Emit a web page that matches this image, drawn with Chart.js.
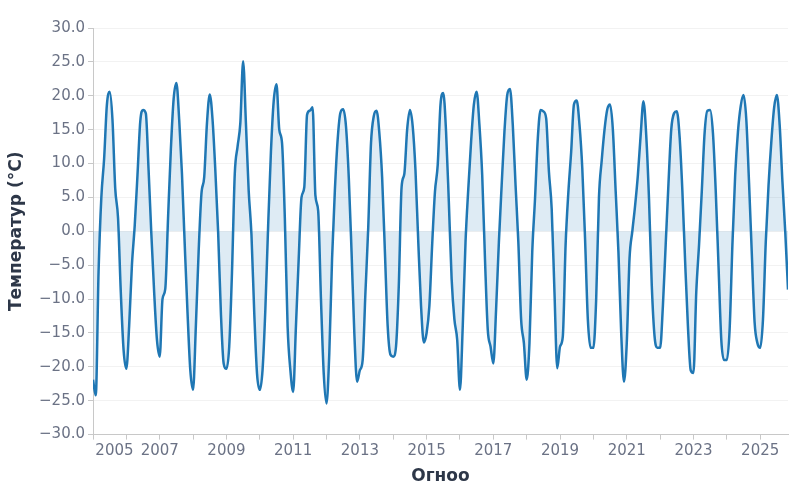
<!DOCTYPE html>
<html>
<head>
<meta charset="utf-8">
<script src="https://cdn.jsdelivr.net/npm/chart.js@4.4.1/dist/chart.umd.min.js"></script>
<style>
  html, body { margin: 0; padding: 0; background: #fff; }
  #wrap { width: 800px; height: 500px; }
</style>
</head>
<body>
<div id="wrap"><canvas id="tempChart"></canvas></div>
<script>
// monthly mean temperature, Jan 2005 .. Nov 2025
const firstYear = 2005;
const temps = [
  -21.9, -24.2, -6, 5, 10.7, 18.7, 20.6, 16.5, 6.3, 2, -9, -17.5,      // 2005
  -20.3, -14, -5, 0.8, 8.3, 16.2, 17.9, 17.4, 9, -0.5, -9, -16,       // 2006
  -18.5, -10, -8.5, 2, 12, 19.5, 21.9, 16.5, 8.5, -2, -12, -20.5,     // 2007
  -23.4, -14, -3, 5.5, 8, 16, 20.2, 16.5, 9, 0, -12, -19.5,           // 2008
  -20.3, -17, -6, 8.5, 12.5, 16, 25.1, 16, 6, -0.5, -12, -21,         // 2009
  -23.4, -20.4, -11.5, 0.8, 11.7, 19.2, 21.7, 15, 13, 2, -14, -20.5,  // 2010
  -23.7, -14, -4, 5, 6.5, 17.2, 17.8, 18.3, 5.3, 3, -10, -21,         // 2011
  -25.4, -18, -4, 6, 13.5, 17.5, 18, 15.5, 8, -3, -15, -22.2,         // 2012
  -20.5, -19, -9, 0.5, 13, 17, 17.8, 14.5, 8, -3, -14, -18.2,         // 2013
  -18.5, -17, -8, 6.5, 8.5, 15, 17.9, 15.5, 9, -1.5, -11, -16.4,      // 2014
  -15, -11, -2, 5.8, 9.8, 18.7, 20.4, 14.7, 4.3, -7, -13, -16,        // 2015
  -23.4, -14, -1.6, 6.3, 13.2, 18.7, 20.6, 15.7, 8.3, -4.1, -14.5, -17, // 2016
  -19.5, -11.5, -1.6, 6.8, 14.7, 20.1, 21, 15.7, 6.8, -1.6, -13, -16.5, // 2017
  -21.9, -16.5, -3.1, 4.8, 13.7, 17.9, 17.7, 16.7, 8.8, 3.3, -9, -20.2, // 2018
  -17, -15.5, -2, 5.8, 11.7, 18.7, 19.3, 15.7, 9.3, -1.1, -13, -17.2, // 2019
  -17.2, -10, 5, 10.5, 15, 18, 18.7, 15, 6, -3, -15, -22.2,           // 2020
  -16.5, -4, 0, 3.8, 8.3, 14.2, 19.2, 14.2, 4.8, -8, -15.5, -17.2,    // 2021
  -17.2, -11, -2, 7, 15, 17.4, 17.7, 14, 6, -4.5, -14, -20.5,         // 2022
  -20.9, -9, -2, 6, 14.5, 17.8, 17.9, 14.5, 6, -5, -16, -19,          // 2023
  -19, -14.5, -2, 8.3, 14.7, 18.5, 20.1, 16.5, 7, -3.5, -13.5, -16.5, // 2024
  -17.2, -13, -1.6, 6.8, 13.2, 18.2, 20.1, 15.7, 7.3, 0, -8.6         // 2025
];
const labelYears = [2005, 2007, 2009, 2011, 2013, 2015, 2017, 2019, 2021, 2023, 2025];
const yTicks = [-30, -25, -20, -15, -10, -5, 0, 5, 10, 15, 20, 25, 30];

const points = temps.map((t, i) => ({ x: firstYear + i / 12, y: t }));
const lastX = firstYear + (temps.length - 1) / 12;

const tickColor = "#6b7285";
const titleColor = "#2d3748";

new Chart(document.getElementById("tempChart").getContext("2d"), {
  type: "line",
  data: {
    datasets: [{
      data: points,
      borderColor: "#1f77b4",
      backgroundColor: "rgba(31, 119, 180, 0.15)",
      borderWidth: 2.5,
      pointRadius: 0,
      fill: "origin",
      cubicInterpolationMode: "monotone"
    }]
  },
  options: {
    responsive: true,
    maintainAspectRatio: false,
    animation: false,
    layout: { padding: { left: 6, right: 12, top: 28, bottom: 13 } },
    plugins: { legend: { display: false }, tooltip: { enabled: false } },
    scales: {
      x: {
        type: "linear",
        min: firstYear,
        max: lastX,
        border: { color: "#c8c8c8" },
        grid: { drawOnChartArea: false, drawTicks: true, tickLength: 5, tickColor: "#c8c8c8" },
        ticks: {
          stepSize: 1,
          includeBounds: false,
          autoSkip: false,
          maxRotation: 0,
          padding: 3,
          color: tickColor,
          font: { family: "DejaVu Sans", size: 15 },
          // first label sits flush with the axis start
          callback: (v) => {
            if (!labelYears.includes(v)) return "";
            return v === labelYears[0] ? "         " + v : String(v);
          }
        },
        title: {
          display: true,
          text: "Огноо",
          color: titleColor,
          font: { family: "DejaVu Sans", size: 17, weight: "bold" },
          padding: { top: 3, bottom: 0 }
        }
      },
      y: {
        min: -30,
        max: 30,
        afterFit: (s) => { s.width = 87; },
        afterBuildTicks: (s) => { s.ticks = yTicks.map((v) => ({ value: v })); },
        border: { color: "#c8c8c8" },
        grid: { color: "#f2f2f2", tickColor: "#c8c8c8", tickLength: 5 },
        ticks: {
          padding: 3,
          color: tickColor,
          font: { family: "DejaVu Sans", size: 15 },
          callback: (v) => v.toFixed(1).replace("-", "\u2212")
        },
        title: {
          display: true,
          text: "Температур (°C)",
          color: titleColor,
          font: { family: "DejaVu Sans", size: 17, weight: "bold" },
          padding: { top: 0, bottom: 12 }
        }
      }
    }
  }
});
</script>
</body>
</html>
